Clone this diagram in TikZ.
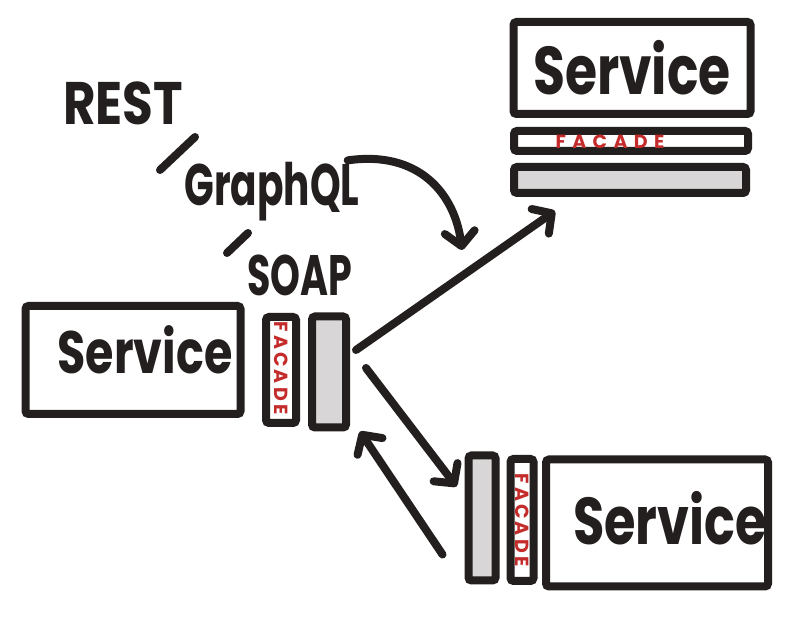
\documentclass[tikz,border=0pt]{standalone}
\usepackage{fontspec}
\setmainfont{Poppins}
\usetikzlibrary{arrows.meta,calc}
\definecolor{ink}{HTML}{231F1E}
\definecolor{redink}{HTML}{C42B2B}
\definecolor{barfill}{HTML}{D8D6D6}
\newcommand{\tallA}[2]{\scalebox{1}[#1]{#2}}
\begin{document}
\begin{tikzpicture}[x=1pt,y=-1pt,
  box/.style={draw=ink,line width=8pt,rounded corners=3pt,inner sep=0pt,fill=white},
  barbox/.style={box,fill=barfill},
  svc/.style={text=ink,inner sep=0pt},
  lbl/.style={text=ink,inner sep=0pt},
  fac/.style={text=redink,font=\fontsize{19}{19}\selectfont\bfseries,inner sep=0pt},
  slash/.style={draw=ink,line width=8pt,line cap=round},
  arr/.style={draw=ink,line width=8pt,line cap=round,
    -{Straight Barb[round,length=14pt,width=30pt,line width=8pt]}}]
\useasboundingbox[fill=white] (0,0) rectangle (804,617);

% top right service
\node[box,minimum width=237pt,minimum height=92pt] (tsvc) at (632,68) {};
\node[svc,font=\fontsize{52}{52}\selectfont\bfseries] (tsvct) at (632,68) {\tallA{1.3}{Service}};
\node[box,minimum width=234pt,minimum height=20pt] (tfac) at (631,141) {};
\node[fac] (tfact) at (610,142) {F\,\,A\,\,C\,\,A\,\,D\,\,E};
\node[barbox,minimum width=232pt,minimum height=26pt] (tbar) at (630,180) {};

% left service
\node[box,minimum width=215pt,minimum height=108pt] (lsvc) at (133,360) {};
\node[svc,font=\fontsize{46}{46}\selectfont\bfseries] (lsvct) at (145,350) {\tallA{1.3}{Service}};
\node[box,minimum width=30pt,minimum height=106pt] (lfac) at (281,370) {};
\node[fac,rotate=-90] (lfact) at (281,368) {F\,A\,C\,A\,D\,E};
\node[barbox,minimum width=34pt,minimum height=111pt] (lbar) at (329,372) {};

% bottom right service
\node[barbox,minimum width=27pt,minimum height=125pt] (bbar) at (482,518) {};
\node[box,minimum width=23pt,minimum height=122pt] (bfac) at (522,520) {};
\node[fac,rotate=-90] (bfact) at (522,520) {F\,A\,C\,A\,D\,E};
\node[box,minimum width=222pt,minimum height=127pt] (bsvc) at (657,523) {};
\node[svc,font=\fontsize{51}{51}\selectfont\bfseries] (bsvct) at (670,518) {\tallA{1.3}{Service}};

% protocol labels
\node[lbl,font=\fontsize{50}{50}\selectfont\bfseries] (rest) at (123,103) {\tallA{1.2}{REST}};
\node[lbl,font=\fontsize{39}{39}\selectfont\bfseries] (gql) at (272,192) {\tallA{1.5}{GraphQL}};
\node[lbl,font=\fontsize{38}{38}\selectfont\bfseries] (soap) at (300,275) {\tallA{1.5}{SOAP}};
\coordinate (s1a) at (160,170);
\coordinate (s1b) at (195,137);
\coordinate (s2a) at (227,253);
\coordinate (s2b) at (248,233);
\draw[slash] (s1a) -- (s1b);
\draw[slash] (s2a) -- (s2b);

% arrows
\coordinate (c1) at (462,250);
\draw[arr] ($(gql.north east)+(-12,-2)$) .. controls (420,150) and (455,195) .. (c1);
\draw[arr] ($(lbar.east)+(6,-22)$) -- ($(tbar.south west)+(45,14)$);
\draw[arr] ($(lbar.east)+(16,-4)$) -- ($(bbar.north west)+(-8,35)$);
\draw[arr] ($(bbar.south west)+(-22,-30)$) -- ($(lbar.south east)+(10,0)$);
\end{tikzpicture}
\end{document}
